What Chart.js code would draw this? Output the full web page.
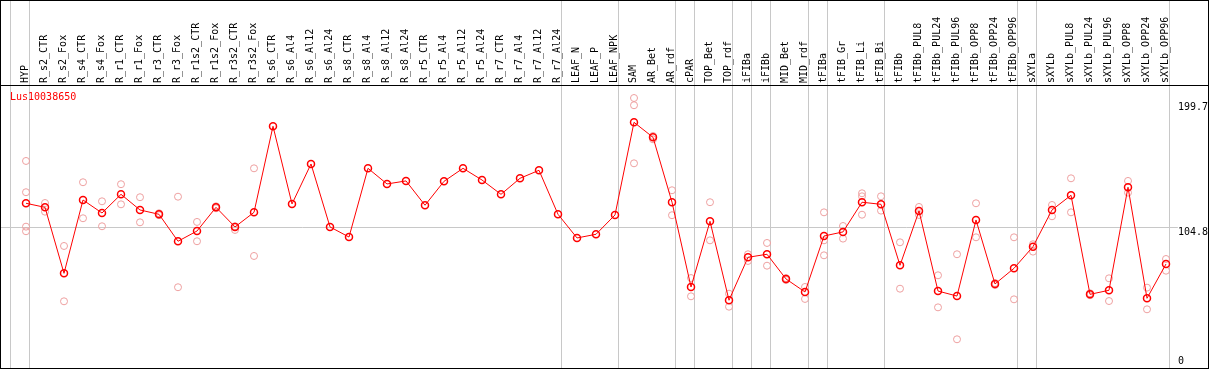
<!DOCTYPE html>
<html>
<head>
<meta charset="utf-8">
<script src="https://cdn.jsdelivr.net/npm/chart.js@4.4.1/dist/chart.umd.min.js"></script>
<style>
  html, body { margin: 0; padding: 0; background: #fff; }
  #frame { position: absolute; left: 0; top: 0; width: 1209px; height: 369px; box-sizing: border-box; border: 1px solid #000; }
  canvas { display: block; }
</style>
</head>
<body>
<div id="frame"><canvas id="chart" width="1207" height="367"></canvas></div>
<script>
// --- Data ---
const seriesName = "Lus10038650";

const categories = [
  "HYP", "R_s2_CTR", "R_s2_Fox", "R_s4_CTR", "R_s4_Fox", "R_r1_CTR", "R_r1_Fox", "R_r3_CTR", "R_r3_Fox",
  "R_r1s2_CTR", "R_r1s2_Fox", "R_r3s2_CTR", "R_r3s2_Fox",
  "R_s6_CTR", "R_s6_Al4", "R_s6_Al12", "R_s6_Al24", "R_s8_CTR", "R_s8_Al4", "R_s8_Al12", "R_s8_Al24",
  "R_r5_CTR", "R_r5_Al4", "R_r5_Al12", "R_r5_Al24", "R_r7_CTR", "R_r7_Al4", "R_r7_Al12", "R_r7_Al24",
  "LEAF_N", "LEAF_P", "LEAF_NPK", "SAM", "AR_Bet", "AR_rdf", "cPAR", "TOP_Bet", "TOP_rdf",
  "iFIBa", "iFIBb", "MID_Bet", "MID_rdf", "tFIBa", "tFIB_Gr", "tFIB_Li", "tFIB_Bi",
  "tFIBb", "tFIBb_PUL8", "tFIBb_PUL24", "tFIBb_PUL96", "tFIBb_OPP8", "tFIBb_OPP24", "tFIBb_OPP96",
  "sXYLa", "sXYLb", "sXYLb_PUL8", "sXYLb_PUL24", "sXYLb_PUL96", "sXYLb_OPP8", "sXYLb_OPP24", "sXYLb_OPP96"
];

// mean per sample (the red line)
const meanValues = [
  123.6, 120.5, 70.3, 126.1, 116.2, 130.4, 118.5, 115.2, 94.7, 102.5,
  120.5, 105.6, 116.7, 182.2, 123.1, 153.5, 105.6, 97.9, 150.2, 138.3,
  140.6, 122.1, 140.3, 150.2, 141.3, 130.4, 142.6, 148.7, 115.2, 97.2,
  100.0, 114.7, 185.2, 173.8, 124.4, 59.9, 109.9, 49.8, 82.5, 84.8,
  66.0, 56.1, 98.7, 101.8, 124.4, 122.8, 76.4, 117.7, 56.8, 53.0,
  110.9, 62.2, 74.1, 90.6, 118.5, 129.7, 54.3, 57.4, 135.8, 51.3, 77.4
];

// single replicates per sample (the faint circles)
const replicateValues = [
  [155.8, 132.0, 105.8, 102.3], [123.8, 117.2], [91.1, 49.0], [139.6, 112.2], [125.1, 106.1],
  [138.1, 122.8], [128.2, 109.1], [116.0, 114.5], [128.6, 59.7], [109.4, 94.7],
  [121.3, 119.8], [106.1, 103.3], [150.2, 83.5],
  [], [], [], [], [], [], [], [], [], [], [], [], [], [], [], [], [], [], [],
  [203.7, 198.2, 154.0], [174.8, 172.3], [133.5, 114.5], [66.7, 52.8], [124.4, 95.4],
  [54.8, 44.9], [84.8, 79.7], [93.4, 76.1], [66.7, 65.2], [59.9, 50.8],
  [116.7, 95.4, 84.0], [106.3, 96.7], [131.2, 128.9, 114.9], [128.9, 118.0],
  [93.9, 58.6], [120.8, 114.7], [68.8, 44.4], [84.8, 20.1], [123.6, 97.7], [62.9, 61.4], [97.7, 50.5],
  [92.4, 86.8], [122.3, 113.7], [142.6, 116.7], [55.1, 53.6], [66.5, 49.2], [140.6, 131.7], [59.4, 42.9], [81.2, 72.3]
];

const yTickValues = [0, 104.8, 199.7];
// index of the first sample of each group (gray separators)
const groupStarts = [0, 1, 29, 32, 35, 36, 38, 39, 40, 42, 43, 46, 53, 54, 61];

// --- Layout helpers ---
const FONT = "DejaVu Sans Mono";
const X_MIN = -25 / 19;
const X_MAX = (1207 - 25) / 19;
const SEP_SHIFT = 0.8;
const GRID = "#c8c8c8";

const meanPoints = meanValues.map((v, i) => ({ x: i, y: v }));
const replicatePoints = [];
replicateValues.forEach((reps, i) => {
  reps.forEach(v => replicatePoints.push({ x: i, y: v }));
});

// red series name in the top-left of the plot
const seriesLabel = {
  id: "seriesLabel",
  afterDraw(chart) {
    const ctx = chart.ctx;
    const area = chart.chartArea;
    ctx.save();
    ctx.font = `10px "${FONT}"`;
    ctx.fillStyle = "#ff0000";
    ctx.textBaseline = "alphabetic";
    ctx.fillText(chart.data.datasets[0].label, area.left + 9, area.top + 15);
    ctx.restore();
  }
};

new Chart(document.getElementById("chart").getContext("2d"), {
  type: "line",
  data: {
    datasets: [
      {
        label: seriesName,
        data: meanPoints,
        borderColor: "#ff0000",
        borderWidth: 1,
        pointRadius: 3.5,
        pointBorderWidth: 1.5,
        pointBorderColor: "#ff0000",
        pointBackgroundColor: "rgba(0,0,0,0)",
        tension: 0
      },
      {
        label: "replicates",
        data: replicatePoints,
        showLine: false,
        pointRadius: 3.5,
        pointBorderWidth: 1,
        pointBorderColor: "#eea0a0",
        pointBackgroundColor: "rgba(0,0,0,0)"
      }
    ]
  },
  options: {
    responsive: false,
    animation: false,
    events: [],
    layout: { padding: 0, autoPadding: false },
    plugins: { legend: { display: false }, tooltip: { enabled: false } },
    scales: {
      x: { type: "linear", display: false, min: X_MIN, max: X_MAX },
      xTop: {
        type: "linear",
        position: "top",
        min: X_MIN,
        max: X_MAX,
        afterBuildTicks: scale => {
          const t = categories.map((_, i) => ({ value: i }))
            .concat(groupStarts.map(k => ({ value: k - SEP_SHIFT })));
          scale.ticks = t.sort((a, b) => a.value - b.value);
        },
        afterFit: scale => {
          scale.height = 84;
          scale.paddingLeft = 0;
          scale.paddingRight = 0;
        },
        grid: {
          drawOnChartArea: true,
          drawTicks: true,
          tickLength: 84,
          lineWidth: 1,
          color: ctx => (ctx.tick && !Number.isInteger(ctx.tick.value)) ? GRID : "rgba(0,0,0,0)"
        },
        border: { display: true, color: "#000", width: 1 },
        ticks: {
          autoSkip: false,
          minRotation: 90,
          maxRotation: 90,
          padding: -82,
          color: "#000",
          font: { family: FONT, size: 10, lineHeight: "0.5px" },
          callback: v => Number.isInteger(v) ? categories[v] : ""
        }
      },
      y: {
        type: "linear",
        position: "right",
        min: -1.75,
        max: 213.6,
        afterBuildTicks: scale => {
          scale.ticks = yTickValues.map(v => ({ value: v }));
        },
        afterFit: scale => {
          scale.width = 0;
          scale.paddingTop = 0;
          scale.paddingBottom = 0;
        },
        grid: {
          drawTicks: false,
          color: ctx => (ctx.tick && ctx.tick.value === 104.8) ? GRID : "rgba(0,0,0,0)"
        },
        border: { display: false },
        ticks: {
          mirror: true,
          padding: 0,
          crossAlign: "far",
          color: "#000",
          // white box under the label cuts the 104.8 line short, like the original
          showLabelBackdrop: ctx => !!ctx.tick && ctx.tick.value !== 0,
          backdropColor: "#fff",
          backdropPadding: 0,
          font: { family: FONT, size: 10, lineHeight: "8px" },
          callback: v => v === 0 ? ["0", ""] : ["", String(v)]
        }
      }
    }
  },
  plugins: [seriesLabel]
});
</script>
</body>
</html>
